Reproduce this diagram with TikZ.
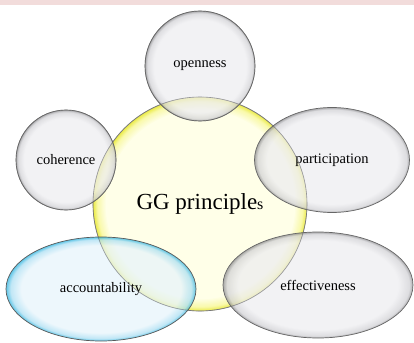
\documentclass[tikz,border=0pt]{standalone}
\usepackage{fontspec}
\setmainfont{Liberation Serif}
\usetikzlibrary{shapes.geometric}
\definecolor{band}{HTML}{F2DCDB}
\definecolor{ga}{HTML}{EDEDF0}
\definecolor{gb}{HTML}{D0D0D4}
\definecolor{gc}{HTML}{8A8A8E}
\definecolor{ya}{HTML}{FFFFE6}
\definecolor{yb}{HTML}{F8F8A0}
\definecolor{yc}{HTML}{E8E830}
\definecolor{ba}{HTML}{E6F4FB}
\definecolor{bb}{HTML}{A8DDF2}
\definecolor{bc}{HTML}{22B0DE}
\pgfdeclareradialshading{glossgray}{\pgfpoint{0bp}{0bp}}{color(0bp)=(ga); color(21bp)=(ga); color(24bp)=(gb); color(25bp)=(gc); color(50bp)=(gc)}
\pgfdeclareradialshading{glossyellow}{\pgfpoint{0bp}{0bp}}{color(0bp)=(ya); color(22bp)=(ya); color(24bp)=(yb); color(25bp)=(yc); color(50bp)=(yc)}
\pgfdeclareradialshading{glossblue}{\pgfpoint{0bp}{0bp}}{color(0bp)=(ba); color(21bp)=(ba); color(23.8bp)=(bb); color(25bp)=(bc); color(50bp)=(bc)}
\tikzset{
  bubble/.style={draw=black!60, line width=0.7pt, inner sep=0pt, fill opacity=0.72, text opacity=1, font=\fontsize{14.5}{16}\selectfont},
  graybub/.style={bubble, shading=glossgray},
  yellowbub/.style={bubble, shading=glossyellow, draw=black!45, fill opacity=0.9},
  bluebub/.style={bubble, shading=glossblue, draw=black!65},
  rim/.style={draw=black!60, line width=0.6pt, draw opacity=0.55},
}
\begin{document}
\begin{tikzpicture}[x=1pt,y=-1pt]
\useasboundingbox (0,0) rectangle (414,342);
\fill[band] (0,0) rectangle (414,5);
\node[yellowbub, circle, minimum size=214pt, font=\fontsize{23}{26}\selectfont] (gg) at (200,204) {GG principle{\fontsize{16}{18}\selectfont s}};
\node[graybub, circle, minimum size=110pt] (open) at (200,66) {openness};
\node[graybub, circle, minimum size=100pt] (coh) at (66,160) {coherence};
\node[graybub, ellipse, minimum width=155pt, minimum height=105pt] (part) at (332,160) {participation};
\node[bluebub, ellipse, minimum width=190pt, minimum height=104pt] (acc) at (101,289) {accountability};
\node[graybub, ellipse, minimum width=190pt, minimum height=106pt] (eff) at (318,285) {effectiveness};
\draw[rim] (gg.center) circle (107pt);
\draw[rim] (open.center) circle (55pt);
\draw[rim] (coh.center) circle (50pt);
\end{tikzpicture}
\end{document}
